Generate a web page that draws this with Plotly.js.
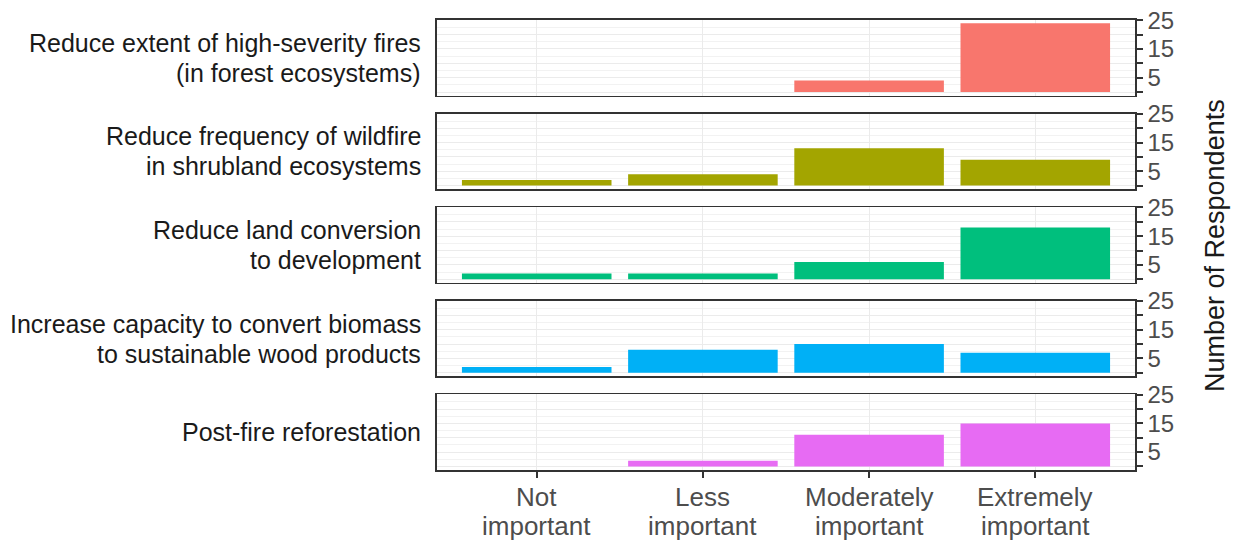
<!DOCTYPE html>
<html>
<head>
<meta charset="utf-8">
<script src="https://cdn.plot.ly/plotly-3.0.1.min.js"></script>
<style>html,body{margin:0;padding:0;background:#fff;}#chart{width:1236px;height:542px;}</style>
</head>
<body>
<div id="chart"></div>
<script>
const categories = ['Not<br>important', 'Less<br>important', 'Moderately<br>important', 'Extremely<br>important'];
const panelLabels = [
  'Reduce extent of high-severity fires<br>(in forest ecosystems)',
  'Reduce frequency of wildfire<br>in shrubland ecosystems',
  'Reduce land conversion<br>to development',
  'Increase capacity to convert biomass<br>to sustainable wood products',
  'Post-fire reforestation'
];
const colors = ['#F8766D', '#A3A500', '#00BF7D', '#00B0F6', '#E76BF3'];
const valuesHighSeverity = [0, 0, 4, 24];
const valuesShrubland = [2, 4, 13, 9];
const valuesLandConversion = [2, 2, 6, 18];
const valuesBiomass = [2, 8, 10, 7];
const valuesReforestation = [0, 2, 11, 15];
const panelValues = [valuesHighSeverity, valuesShrubland, valuesLandConversion, valuesBiomass, valuesReforestation];
const yTickVals = [0, 5, 10, 15, 20, 25];
const yTickText = ['', '5', '', '15', '', '25'];
const yMinorVals = [2.5, 7.5, 12.5, 17.5, 22.5];
const yAxisTitle = 'Number of Respondents';

const FONT = 'Liberation Sans, Arial, sans-serif';
const n = panelValues.length;
const panelH = 0.168, step = 0.208;
const data = [];
const layout = {
  width: 1236, height: 542,
  margin: {l: 437, r: 101, t: 20, b: 72},
  paper_bgcolor: '#ffffff', plot_bgcolor: '#ffffff',
  showlegend: false,
  font: {family: FONT, size: 24, color: '#4d4d4d'},
  annotations: []
};
for (let i = 0; i < n; i++) {
  const sfx = i === 0 ? '' : String(i + 1);
  data.push({
    type: 'bar', x: categories, y: panelValues[i],
    xaxis: 'x' + sfx, yaxis: 'y' + sfx,
    marker: {color: colors[i], line: {width: 0}},
    width: 0.9, hoverinfo: 'x+y'
  });
  const top = 1 - i * step;
  const isBottom = i === n - 1;
  layout['xaxis' + sfx] = {
    type: 'category', categoryorder: 'array', categoryarray: categories,
    range: [-0.6, 3.6], domain: [0, 1], anchor: 'y' + sfx,
    showgrid: true, gridcolor: '#ebebeb', gridwidth: 1,
    showline: true, mirror: true, linecolor: '#333333', linewidth: 1.6,
    ticks: isBottom ? 'outside' : '', ticklen: 6, tickwidth: 2, tickcolor: '#333333',
    showticklabels: false,
    zeroline: false, fixedrange: true
  };
  layout['yaxis' + sfx] = {
    domain: [top - panelH, top], anchor: 'x' + sfx, side: 'right',
    range: [-1.25, 25.1], tickmode: 'array', tickvals: yTickVals, ticktext: yTickText,
    ticks: 'outside', ticklen: 6, tickwidth: 2, tickcolor: '#333333',
    tickfont: {family: FONT, size: 24, color: '#4d4d4d'},
    showgrid: true, gridcolor: '#ebebeb', gridwidth: 1,
    minor: {tickmode: 'array', tickvals: yMinorVals, showgrid: true, gridcolor: '#f2f2f2', gridwidth: 1, ticks: ''},
    showline: true, mirror: true, linecolor: '#333333', linewidth: 1.6,
    zeroline: false, fixedrange: true
  };
  // facet labels on the left, one annotation per line for tight line spacing
  const lines = panelLabels[i].split('<br>');
  const lineGap = 30;
  lines.forEach((ln, k) => {
    const shift = ((lines.length - 1) / 2 - k) * lineGap;
    layout.annotations.push({
      text: ln, xref: 'paper', yref: 'y' + sfx + ' domain',
      x: -0.02, y: 0.5, xanchor: 'right', yanchor: 'middle', align: 'right',
      yshift: shift, showarrow: false, font: {family: FONT, size: 25, color: '#1a1a1a'}
    });
  });
}
// category labels under the bottom panel
const bottomSfx = String(n);
categories.forEach((cat) => {
  cat.split('<br>').forEach((ln, k) => {
    layout.annotations.push({
      text: ln, xref: 'x' + bottomSfx, yref: 'y' + bottomSfx + ' domain',
      x: cat, y: 0, xanchor: 'center', yanchor: 'middle',
      yshift: -27 - k * 29, showarrow: false,
      font: {family: FONT, size: 26, color: '#4d4d4d'}
    });
  });
});
layout.annotations.push({
  text: yAxisTitle, xref: 'paper', yref: 'paper', x: 1.1146, y: 0.5,
  xanchor: 'center', yanchor: 'middle', textangle: -90, showarrow: false,
  font: {family: FONT, size: 27, color: '#1a1a1a'}
});
Plotly.newPlot('chart', data, layout, {displayModeBar: false, staticPlot: true});
</script>
</body>
</html>
